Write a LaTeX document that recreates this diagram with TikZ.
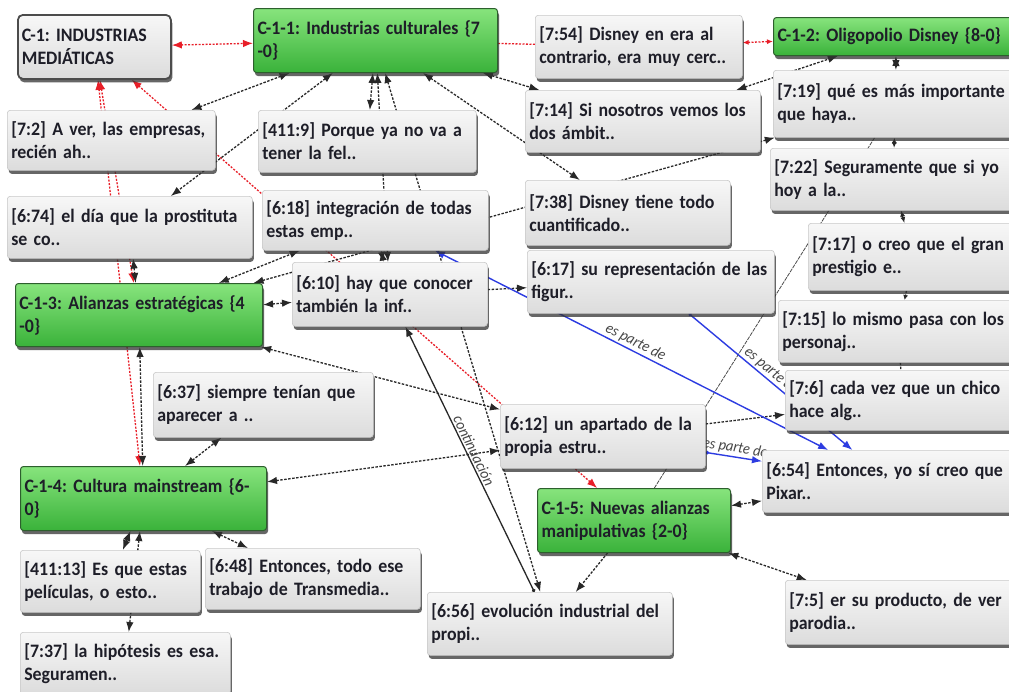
\documentclass[tikz,border=0pt]{standalone}
\usepackage{fontspec}
\setmainfont{Carlito}[FakeStretch=0.94]
\usetikzlibrary{arrows.meta,shadows}
\pgfdeclarelayer{back}
\pgfdeclarelayer{bg}
\pgfsetlayers{back,bg,main}
\definecolor{txt}{RGB}{30,30,40}
\definecolor{gtop}{RGB}{135,228,125}
\definecolor{gbot}{RGB}{58,178,58}
\definecolor{gbrd}{RGB}{45,95,45}
\definecolor{qtop}{RGB}{247,247,247}
\definecolor{qbot}{RGB}{220,220,220}
\definecolor{qbrd}{RGB}{200,200,200}
\definecolor{edg}{RGB}{40,40,40}
\definecolor{redl}{RGB}{232,30,40}
\definecolor{bluel}{RGB}{45,60,225}
\frenchspacing
\begin{document}
\begin{tikzpicture}[x=1pt,y=-1pt,
  >={Latex[length=10pt,width=7.5pt]},
  nbase/.style={anchor=north west, rounded corners=3pt, inner xsep=4pt, inner ysep=3pt,
    align=left, font=\fontsize{19}{23}\selectfont\bfseries, text=txt,
    drop shadow={shadow xshift=1.5pt, shadow yshift=-3.5pt, fill=black!80, opacity=0.75}},
  qb/.style={nbase, top color=qtop, bottom color=qbot, draw=qbrd, line width=0.6pt},
  gb/.style={nbase, top color=gtop, bottom color=gbot, draw=gbrd, line width=1pt},
  cb/.style={nbase, top color=qtop, bottom color=qbot, draw=black!70, line width=1.8pt, rounded corners=5pt},
  dk/.style={draw=edg, line width=1.3pt, dash pattern=on 2.5pt off 1.5pt, <->},
  rd/.style={draw=redl, line width=1.3pt, dash pattern=on 2pt off 1.5pt, <->},
  bu/.style={draw=bluel, line width=1.4pt},
  sm/.style={>={Latex[length=6pt,width=5pt]}},
  lbl/.style={font=\fontsize{15.5}{15.5}\selectfont\itshape, text=black!72, inner sep=1.5pt}
]
\begin{pgfonlayer}{back}
\fill[white] (0,0) rectangle (1009,691);
\end{pgfonlayer}
\useasboundingbox (0,0) rectangle (1009,691);

% ---- nodes ----
\node[cb, text width=145pt, minimum height=64pt] (c1) at (17,14) {\mbox{C-1: INDUSTRIAS}\\\mbox{MEDIÁTICAS}};
\node[gb, text width=236pt, minimum height=64pt] (c11) at (253,8) {\mbox{C-1-1: Industrias culturales \{7}\\\mbox{-0\}}};
\node[qb, text width=199pt, minimum height=63pt] (q754) at (535,15) {\mbox{[7:54] Disney en era al}\\\mbox{contrario, era muy cerc..}};
\node[gb, text width=237pt, minimum height=38pt] (c12) at (773,17) {\mbox{C-1-2: Oligopolio Disney \{8-0\}}};
\node[qb, text width=200pt, minimum height=60pt] (q72) at (7,110) {\mbox{[7:2] A ver, las empresas,}\\\mbox{recién ah..}};
\node[qb, text width=210pt, minimum height=62pt] (q4119) at (258,110) {\mbox{[411:9] Porque ya no va a}\\\mbox{tener la fel..}};
\node[qb, text width=227pt, minimum height=62pt] (q714) at (525,90) {\mbox{[7:14] Si nosotros vemos los}\\\mbox{dos ámbit..}};
\node[qb, text width=237pt, minimum height=67pt] (q719) at (773,70) {\mbox{[7:19] qué es más importante}\\\mbox{que haya..}};
\node[qb, text width=237pt, minimum height=62pt] (q722) at (770,148) {\mbox{[7:22] Seguramente que si yo}\\\mbox{hoy a la..}};
\node[qb, text width=237pt, minimum height=62pt] (q674) at (7,196) {\mbox{[6:74] el día que la prostituta}\\\mbox{se co..}};
\node[qb, text width=218pt, minimum height=60pt] (q618) at (262,190) {\mbox{[6:18] integración de todas}\\\mbox{estas emp..}};
\node[qb, text width=197pt, minimum height=65pt] (q738) at (525,180) {\mbox{[7:38] Disney tiene todo}\\\mbox{cuantificado..}};
\node[qb, text width=202pt, minimum height=67pt] (q717) at (808,223) {\mbox{[7:17] o creo que el gran}\\\mbox{prestigio e..}};
\node[qb, text width=239pt, minimum height=63pt] (q617) at (527,250) {\mbox{[6:17] su representación de las}\\\mbox{figur..}};
\node[gb, text width=239pt, minimum height=63pt] (c13) at (15,283) {\mbox{C-1-3: Alianzas estratégicas \{4}\\\mbox{-0\}}};
\node[qb, text width=187pt, minimum height=64pt] (q610) at (292,262) {\mbox{[6:10] hay que conocer}\\\mbox{también la inf..}};
\node[qb, text width=232pt, minimum height=62pt] (q715) at (778,300) {\mbox{[7:15] lo mismo pasa con los}\\\mbox{personaj..}};
\node[qb, text width=227pt, minimum height=60pt] (q76) at (785,370) {\mbox{[7:6] cada vez que un chico}\\\mbox{hace alg..}};
\node[qb, text width=212pt, minimum height=65pt] (q637) at (153,372) {\mbox{[6:37] siempre tenían que}\\\mbox{aparecer a ..}};
\node[qb, text width=197pt, minimum height=64pt] (q612) at (500,404) {\mbox{[6:12] un apartado de la}\\\mbox{propia estru..}};
\node[qb, text width=247pt, minimum height=62pt] (q654) at (762,450) {\mbox{[6:54] Entonces, yo sí creo que}\\\mbox{Pixar..}};
\node[gb, text width=238pt, minimum height=64pt] (c14) at (20,466) {\mbox{C-1-4: Cultura mainstream \{6-}\\\mbox{0\}}};
\node[gb, text width=185pt, minimum height=64pt] (c15) at (537,488) {\mbox{C-1-5: Nuevas alianzas}\\\mbox{manipulativas \{2-0\}}};
\node[qb, text width=172pt, minimum height=62pt] (q41113) at (20,550) {\mbox{[411:13] Es que estas}\\\mbox{películas, o esto..}};
\node[qb, text width=207pt, minimum height=61pt] (q648) at (205,548) {\mbox{[6:48] Entonces, todo ese}\\\mbox{trabajo de Transmedia..}};
\node[qb, text width=237pt, minimum height=63pt] (q656) at (427,592) {\mbox{[6:56] evolución industrial del}\\\mbox{propi..}};
\node[qb, text width=222pt, minimum height=64pt] (q75) at (785,580) {\mbox{[7:5] er su producto, de ver}\\\mbox{parodia..}};
\node[qb, text width=202pt, minimum height=62pt] (q737) at (20,632) {\mbox{[7:37] la hipótesis es esa.}\\\mbox{Seguramen..}};

% ---- connectors ----
\begin{pgfonlayer}{bg}
% red
\draw[rd] (c1) -- (c11);
\draw[draw=redl, line width=1.3pt, dash pattern=on 2pt off 1.5pt] (c11) -- (q754);
\draw[rd, sm] (q754) -- (c12);
\draw[rd] (c15) -- (c1);
\draw[rd] (c1) -- (c13);
\draw[rd] (c1) -- (c14);
% black dashed
\draw[dk] (c11) -- (q72);
\draw[dk] (c11) -- (q674);
\draw[dk] (c11) -- (q4119);
\draw[dk] (c11) -- (q610);
\draw[dk] (c11) -- (q656);
\draw[dk] (c11) -- (q738);
\draw[dk] (c11) -- (q714);
\draw[dk] (q714) -- (c12);
\draw[dk] (c12) -- (q719);
\draw[dk, sm] (q719) -- (q722);
\draw[dk, sm] (q722) -- (q717);
\draw[dk, sm, -{Latex[length=5pt,width=5pt]}] (q717) -- (q715);
\draw[dk, sm, -] (q715) -- (q76);
\draw[dk] (q674) -- (c13);
\draw[dk] (c13) -- (c14);
\draw[dk] (c13) -- (q618);
\draw[dk] (c13) -- (q610);
\draw[dk] (c13) -- (q719);
\draw[dk] (c13) -- (q612);
\draw[dk] (q618) -- (q610);
\draw[dk, ->] (q610) -- (q617);
\draw[dk] (c14) -- (q612);
\draw[dk] (c14) -- (q637);
\draw[dk] (c14) -- (q41113);
\draw[dk] (c14) -- (q737);
\draw[dk] (c14) -- (q648);
\draw[dk, ->] (q612) -- (q76);
\draw[dk] (c15) -- (q654);
\draw[dk] (c15) -- (q75);
\draw[dk, ->] (c15) -- (q656);
\draw[draw=black!70, line width=0.8pt, dash pattern=on 4pt off 1pt] (q719) -- (c15);
% solid continuation
\draw[draw=edg, line width=1.3pt, {Circle[length=3.5pt]}->] (q656) -- node[lbl, sloped, above, pos=0.52] {continuación} (q610);
% blue
\draw[bu, <->] (q618) -- node[lbl, sloped, above, pos=0.5] {es parte de} (q654);
\draw[bu, {Circle[length=3.5pt]}->] (q617) -- node[lbl, sloped, above, pos=0.47] {es parte de} (q654);
\draw[bu, {Circle[length=3.5pt]}->] (q612) -- node[lbl, sloped, above, pos=0.5] {es parte de} (q654);
\end{pgfonlayer}
\end{tikzpicture}
\end{document}
